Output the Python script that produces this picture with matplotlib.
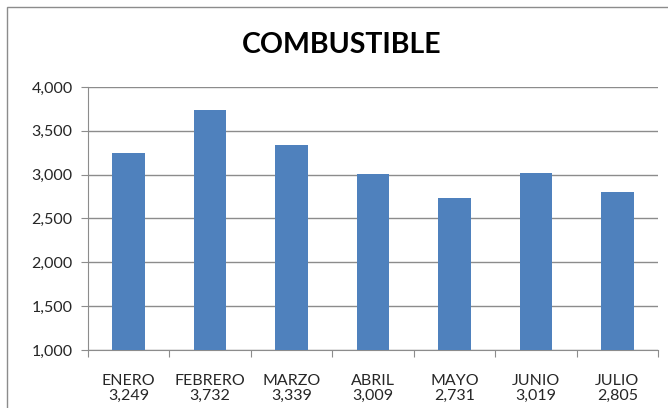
import matplotlib
matplotlib.use('Agg')
import matplotlib.pyplot as plt
from matplotlib.patches import Rectangle

months = ['ENERO', 'FEBRERO', 'MARZO', 'ABRIL', 'MAYO', 'JUNIO', 'JULIO']
values = [3249, 3732, 3339, 3009, 2731, 3019, 2805]
y_ticks = [1000, 1500, 2000, 2500, 3000, 3500, 4000]

plt.rcParams['font.family'] = ['Lato', 'DejaVu Sans']

fig = plt.figure(figsize=(6.68, 4.08), dpi=100)
ax = fig.add_axes([88 / 668, 1 - 350 / 408, 570 / 668, 263 / 408])

# outer chart frame (cropped on the right and bottom)
fig.patches.append(Rectangle((7 / 668, -0.1), 1.2, 1.1 - 7 / 408,
                             transform=fig.transFigure, fill=False,
                             edgecolor='#8c8c8c', linewidth=1.0))

x = list(range(len(months)))
ax.bar(x, values, width=0.4, color='#4F81BD', zorder=3)
ax.set_xlim(-0.5, len(months) - 0.5)
ax.set_ylim(1000, 4000)
ax.set_yticks(y_ticks)
ax.set_yticklabels([f'{v:,}' for v in y_ticks])
ax.yaxis.grid(True, color='#8c8c8c', linewidth=1.0, zorder=0)

ax.set_xticks([i + 0.5 for i in range(-1, len(months))])
ax.set_xticklabels([])
ax.set_xticks(x, minor=True)
ax.set_xticklabels([f'{m}\n{v:,}' for m, v in zip(months, values)], minor=True)
ax.tick_params(axis='x', which='minor', length=0, pad=17, labelsize=11.5,
               labelcolor='#262626')
ax.tick_params(axis='x', which='major', length=5, color='#8c8c8c')
ax.tick_params(axis='y', length=5, color='#8c8c8c', labelsize=11.5,
               labelcolor='#262626', pad=6)
for t in ax.get_xticklabels(minor=True):
    t.set_linespacing(1.15)

for s in ['top', 'right']:
    ax.spines[s].set_visible(False)
for s in ['left', 'bottom']:
    ax.spines[s].set_color('#8c8c8c')

fig.text(342 / 668, 1 - 45 / 408, 'COMBUSTIBLE', ha='center', va='center',
         fontsize=20.5, fontweight='bold', color='black')

fig.savefig('out.png', dpi=100)
